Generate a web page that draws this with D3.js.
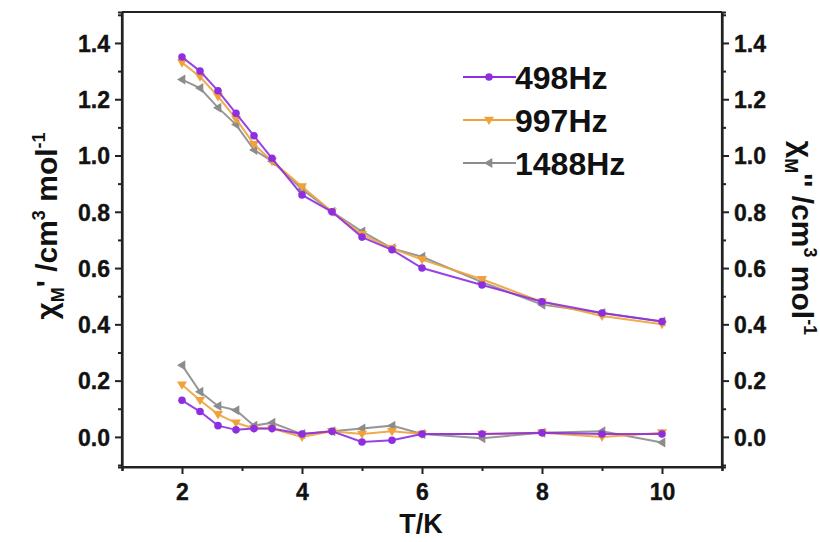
<!DOCTYPE html>
<html><head><meta charset="utf-8">
<script src="https://cdn.jsdelivr.net/npm/d3@7"></script>
<style>body{margin:0;background:#fff}svg{display:block}text{font-family:"Liberation Sans",Arial,sans-serif;font-weight:bold;fill:#111}</style>
</head><body>
<svg id="c" width="820" height="542"></svg>
<script>
const T = [2, 2.3, 2.6, 2.9, 3.2, 3.5, 4, 4.5, 5, 5.5, 6, 7, 8, 9, 10];
const chiP498 = [1.35, 1.30, 1.23, 1.15, 1.07, 0.99, 0.86, 0.80, 0.71, 0.665, 0.60, 0.54, 0.48, 0.44, 0.41];
const chiP997 = [1.33, 1.28, 1.21, 1.13, 1.04, 0.98, 0.89, 0.80, 0.72, 0.67, 0.63, 0.56, 0.48, 0.43, 0.40];
const chiP1488 = [1.27, 1.24, 1.17, 1.11, 1.02, 0.98, 0.88, 0.80, 0.73, 0.67, 0.64, 0.55, 0.47, 0.44, 0.41];
const chiPP498 = [0.13, 0.09, 0.04, 0.025, 0.03, 0.03, 0.01, 0.02, -0.018, -0.012, 0.01, 0.01, 0.015, 0.01, 0.01];
const chiPP997 = [0.185, 0.13, 0.08, 0.05, 0.03, 0.03, 0.0, 0.02, 0.01, 0.02, 0.01, 0.01, 0.015, 0.0, 0.015];
const chiPP1488 = [0.255, 0.16, 0.11, 0.095, 0.04, 0.05, 0.01, 0.02, 0.03, 0.04, 0.01, -0.005, 0.015, 0.02, -0.02];
const seriesNames = ["498Hz", "997Hz", "1488Hz"];
const colors = ["#8e2ee0", "#f0a23a", "#8c8c8c"];
const xTicks = [2, 4, 6, 8, 10];
const yTicks = [0, 0.2, 0.4, 0.6, 0.8, 1.0, 1.2, 1.4];

const svg = d3.select("#c");
const L = 122, R = 722, Tp = 12, B = 467;
const x = d3.scaleLinear().domain([1, 11]).range([L, R]);
const y = d3.scaleLinear().domain([-0.107, 1.51]).range([B, Tp]);

const fmt = d3.format(".1f");
const minorY = d3.range(-0.1, 1.55, 0.2).map(v => +v.toFixed(2));
const gL = svg.append("g").attr("transform", `translate(${L},0)`)
  .call(d3.axisLeft(y).tickValues(yTicks).tickFormat(fmt).tickSize(7).tickPadding(5));
const gLm = svg.append("g").attr("transform", `translate(${L},0)`)
  .call(d3.axisLeft(y).tickValues(minorY).tickFormat("").tickSize(4));
const gR = svg.append("g").attr("transform", `translate(${R},0)`)
  .call(d3.axisRight(y).tickValues(yTicks).tickFormat(fmt).tickSize(7).tickPadding(5));
const gRm = svg.append("g").attr("transform", `translate(${R},0)`)
  .call(d3.axisRight(y).tickValues(minorY).tickFormat("").tickSize(4));
const gB = svg.append("g").attr("transform", `translate(0,${B})`)
  .call(d3.axisBottom(x).tickValues(xTicks).tickFormat(d3.format("d")).tickSize(7).tickPadding(10));
const gBm = svg.append("g").attr("transform", `translate(0,${B})`)
  .call(d3.axisBottom(x).tickValues([1, 3, 5, 7, 9, 11]).tickFormat("").tickSize(4));
const gT = svg.append("g").attr("transform", `translate(0,${Tp})`)
  .call(d3.axisTop(x).tickValues([]).tickSize(0));
[gL, gLm, gR, gRm, gB, gBm, gT].forEach(g => {
  g.selectAll(".domain").attr("stroke", "#222").attr("stroke-width", 2.2);
  g.selectAll(".tick line").attr("stroke", "#222").attr("stroke-width", 2);
  g.selectAll("text").attr("font-size", 23).attr("font-family", "Liberation Sans, Arial, sans-serif")
    .attr("font-weight", "bold").attr("fill", "#1a1a1a").attr("stroke", "#1a1a1a").attr("stroke-width", 0.4);
});
gL.selectAll(".domain").attr("d", `M0,${Tp}V${B}`);
gR.selectAll(".domain").attr("d", `M0,${Tp}V${B}`);
gB.selectAll(".domain").attr("d", `M${L},0H${R}`);
gT.selectAll(".domain").attr("d", `M${L},0H${R}`);
gL.selectAll("text").attr("dy", "0.36em");
gR.selectAll("text").attr("dy", "0.36em");

const symCircle = d3.symbol().type(d3.symbolCircle).size(45);
const triDown = "M-5,-3.3L5,-3.3L0,5Z";
const triLeft = "M-5,0L3.3,-5L3.3,5Z";
const markerPath = [symCircle(), triDown, triLeft];

const groups = [
  [chiP498, chiP997, chiP1488],
  [chiPP498, chiPP997, chiPP1488]
];
const line = d3.line().x((d, i) => x(T[i])).y(d => y(d));
const plot = svg.append("g");
[2, 1, 0].forEach(s => {
  groups.forEach(grp => {
    const vals = grp[s];
    plot.append("path").datum(vals).attr("d", line)
      .attr("fill", "none").attr("stroke", colors[s]).attr("stroke-width", 2).attr("stroke-opacity", 0.9);
    plot.selectAll(null).data(vals).enter().append("path")
      .attr("transform", (d, i) => `translate(${x(T[i])},${y(d)})`)
      .attr("d", markerPath[s]).attr("fill", colors[s]);
  });
});

const legY = [77, 120, 163];
seriesNames.forEach((n, s) => {
  const g = svg.append("g").attr("transform", `translate(0,${legY[s]})`);
  g.append("line").attr("x1", 463).attr("x2", 516).attr("y1", 0).attr("y2", 0)
    .attr("stroke", colors[s]).attr("stroke-width", 2);
  g.append("path").attr("transform", "translate(489,0)").attr("d", markerPath[s]).attr("fill", colors[s]);
  g.append("text").attr("x", 515).attr("y", 0).attr("dy", "0.36em").attr("font-size", 32)
    .attr("fill", "#1a1a1a").text(n);
});

svg.append("text").attr("x", 421).attr("y", 533).attr("text-anchor", "middle")
  .attr("font-size", 27).attr("fill", "#1a1a1a").text("T/K");

function yTitle(tx, ty, rot, primes) {
  const t = svg.append("text").attr("transform", `translate(${tx},${ty}) rotate(${rot})`)
    .attr("text-anchor", "middle").attr("font-size", 30).attr("fill", "#1a1a1a");
  t.append("tspan").text("χ");
  t.append("tspan").attr("font-size", 18).attr("dy", 7).text("M");
  t.append("tspan").attr("dy", -7).text(primes + " /cm");
  t.append("tspan").attr("font-size", 18).attr("dy", -12).text("3");
  t.append("tspan").attr("dy", 12).text(" mol");
  t.append("tspan").attr("font-size", 18).attr("dy", -12).text("-1");
}
yTitle(57, 226, -90, "'");
yTitle(792, 238, 90, "''");
</script>
</body></html>
